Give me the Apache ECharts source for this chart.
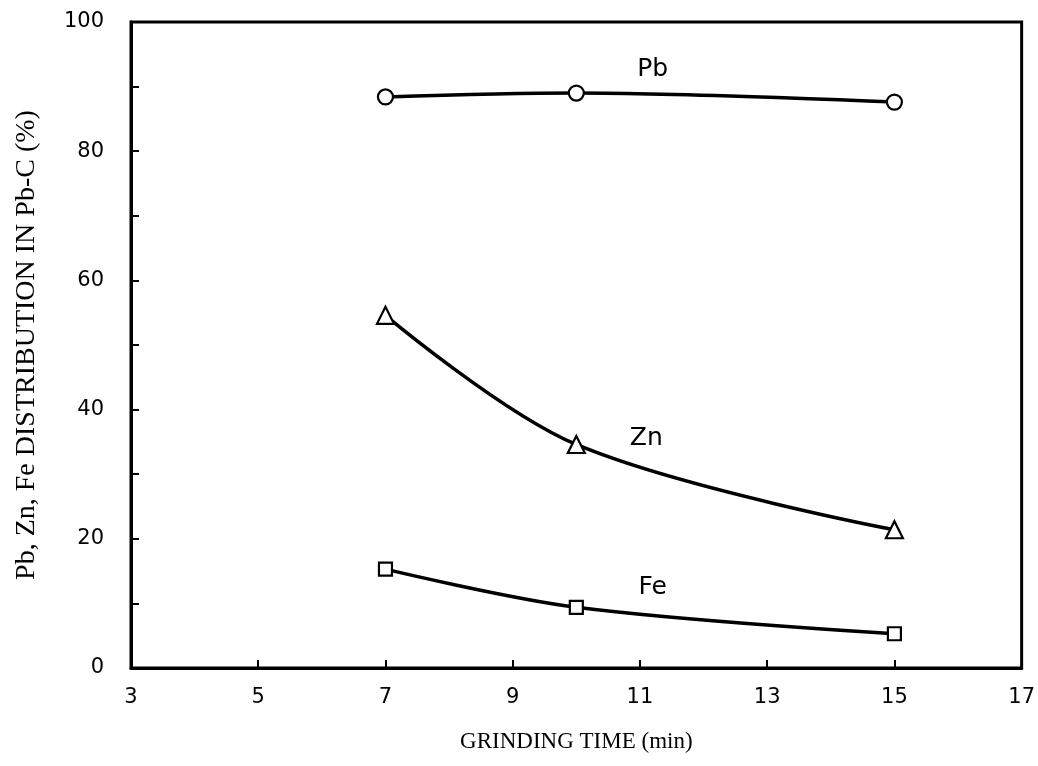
<!DOCTYPE html>
<html>
<head>
<meta charset="utf-8">
<script src="https://cdn.jsdelivr.net/npm/echarts@6/dist/echarts.min.js"></script>
<style>
  html, body { margin: 0; padding: 0; background: #fff; }
  #chart { width: 1038px; height: 766px; }
</style>
</head>
<body>
<div id="chart"></div>
<script>
// Grinding time (min) on the x axis
const grindTimes = [7, 10, 15];
// Distribution into the Pb concentrate (%)
const pbValues = [88.4, 89.0, 87.6];
const znValues = [54.6, 34.6, 21.4];
const feValues = [15.3, 9.4, 5.3];
// Where each element name sits along its curve [time, %]
const pbLabelAt = [11.2, 92.6];
const znLabelAt = [11.1, 35.6];
const feLabelAt = [11.2, 12.4];

const ink = '#000';
const tickFont = 'DejaVu Sans';
const titleFont = 'Liberation Serif';

function pairs(xs, ys) { return xs.map((x, i) => [x, ys[i]]); }

// invisible anchor carrying the element name next to its curve
function nameTag(text, at) {
  return {
    symbol: 'circle',
    symbolSize: 2,
    silent: true,
    itemStyle: { color: 'rgba(0,0,0,0)', borderWidth: 0 },
    label: {
      show: true, formatter: text, position: 'inside',
      color: ink, fontFamily: tickFont, fontSize: 25
    },
    data: [{ coord: at }]
  };
}

function curve(name, values, symbol, size, tagAt) {
  return {
    name: name,
    type: 'line',
    smooth: 0.35,
    data: pairs(grindTimes, values),
    symbol: symbol,
    symbolSize: size,
    lineStyle: { color: ink, width: 3.5 },
    itemStyle: { color: '#fff', borderColor: ink, borderWidth: 2.2 },
    markPoint: nameTag(name, tagAt),
    z: 3
  };
}

const chart = echarts.init(document.getElementById('chart'));
chart.setOption({
  backgroundColor: '#fff',
  animation: false,
  grid: {
    left: 131, right: 16, top: 22, bottom: 98,
    show: true, borderColor: ink, borderWidth: 3
  },
  xAxis: {
    type: 'value',
    min: 3, max: 17, interval: 2,
    name: 'GRINDING TIME (min)',
    nameLocation: 'middle',
    nameGap: 62,
    nameTextStyle: { color: ink, fontFamily: titleFont, fontSize: 23 },
    axisLine: { lineStyle: { color: ink, width: 3 } },
    axisTick: { inside: true, length: 8, lineStyle: { color: ink, width: 2 } },
    axisLabel: { color: ink, fontFamily: tickFont, fontSize: 21, margin: 19 },
    splitLine: { show: false }
  },
  yAxis: {
    type: 'value',
    min: 0, max: 100, interval: 10,
    name: 'Pb, Zn, Fe DISTRIBUTION IN Pb-C (%)',
    nameLocation: 'middle',
    nameGap: 90,
    nameTextStyle: { color: ink, fontFamily: titleFont, fontSize: 28 },
    axisLine: { lineStyle: { color: ink, width: 3 } },
    axisTick: { inside: true, length: 8, lineStyle: { color: ink, width: 2 } },
    axisLabel: {
      color: ink, fontFamily: tickFont, fontSize: 21, margin: 27,
      formatter: v => (v % 20 === 0 ? String(v) : '')
    },
    splitLine: { show: false }
  },
  series: [
    curve('Pb', pbValues, 'circle', 15, pbLabelAt),
    curve('Zn', znValues, 'triangle', 17, znLabelAt),
    curve('Fe', feValues, 'rect', 13, feLabelAt)
  ]
});
</script>
</body>
</html>
